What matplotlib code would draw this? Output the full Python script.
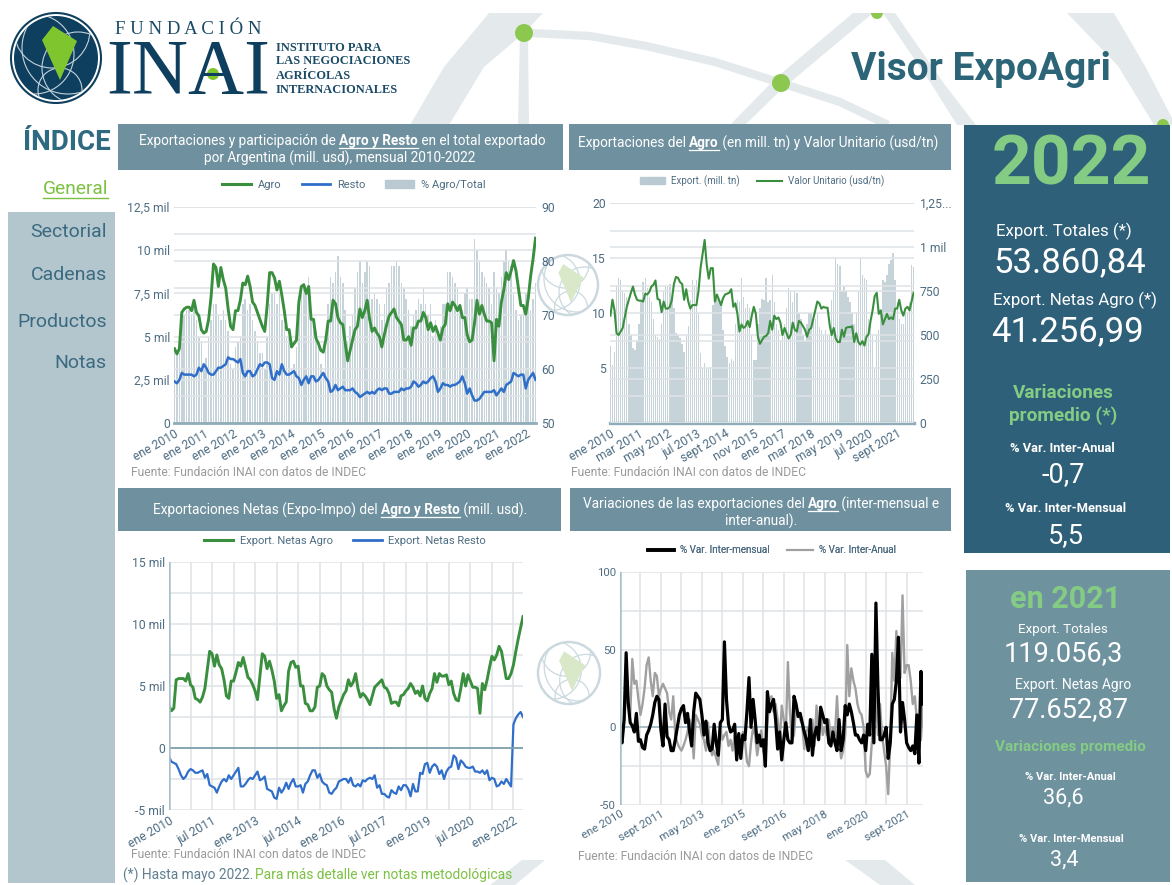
import numpy as np
import matplotlib
matplotlib.use("Agg")
import matplotlib.pyplot as plt
from matplotlib.patches import Rectangle, Circle, Polygon, Patch
from matplotlib.lines import Line2D

plt.rcParams['font.family'] = ['Roboto', 'DejaVu Sans']

# ---------- DATA ----------
MES = ['ene', 'feb', 'mar', 'abr', 'may', 'jun', 'jul', 'ago', 'sept', 'oct', 'nov', 'dic']
months = [f"{MES[i % 12]} {2010 + i // 12}" for i in range(149)]

agro = [4.3,4.0,4.3,6.4,6.6,6.7,6.7,6.5,7.1,6.4,6.2,5.4,
        5.2,5.3,6.0,7.3,9.2,9.0,7.9,9.0,8.3,7.8,6.6,5.6,
        5.4,6.5,6.5,7.1,8.1,8.0,8.5,7.9,7.0,6.8,6.4,6.0,
        5.6,5.3,6.8,8.7,8.7,8.4,7.7,8.2,7.4,6.5,5.4,5.4,
        4.4,4.6,4.8,7.0,7.9,8.0,7.5,7.9,6.0,6.0,4.9,4.6,
        4.2,4.1,4.8,5.9,5.9,7.1,6.9,6.1,5.8,5.7,4.6,3.6,
        4.2,4.8,5.4,5.6,6.6,6.1,6.5,7.1,6.0,5.3,5.5,5.2,
        5.0,4.4,5.1,5.7,6.2,6.4,6.6,6.1,5.9,5.7,4.8,4.8,
        5.0,4.5,5.5,5.5,5.9,5.9,6.4,6.1,5.4,5.8,5.3,5.6,
        5.2,4.8,5.5,5.7,6.9,6.5,7.0,6.8,6.5,6.8,6.1,6.1,
        5.1,4.7,4.8,5.8,7.1,6.3,6.8,6.3,5.9,5.9,5.8,3.6,
        6.0,5.6,7.0,7.7,8.7,8.3,8.8,9.4,8.8,7.8,6.8,6.8,
        6.3,7.2,8.5,9.5,10.7]
resto = [2.4,2.3,2.5,2.9,2.8,2.8,2.8,2.8,2.7,2.8,3.2,3.0,
         3.4,3.2,2.9,2.8,2.8,3.0,3.2,3.2,3.3,3.4,3.8,3.7,
         3.7,3.6,3.5,3.7,2.9,2.7,3.0,3.0,2.7,2.8,3.1,3.4,
         3.3,3.5,3.5,3.4,2.6,2.5,3.0,2.8,3.4,3.0,2.8,2.8,
         2.9,3.0,2.7,2.6,2.2,2.5,2.7,2.3,2.7,2.7,2.4,2.5,
         2.7,2.9,2.6,2.4,1.8,1.9,2.2,1.9,2.0,2.1,1.9,1.9,
         1.9,2.0,1.8,1.7,1.5,1.6,1.7,1.8,1.7,1.8,1.7,1.9,
         2.0,1.9,2.0,2.0,1.7,1.7,1.8,1.8,1.8,2.0,1.9,2.0,
         2.0,2.1,2.4,2.3,2.1,2.2,2.4,2.3,2.4,2.6,2.7,2.4,
         1.8,2.0,2.3,2.2,2.2,2.1,2.2,2.2,2.3,2.4,2.7,2.3,
         1.7,2.0,1.6,1.3,1.3,1.4,1.6,1.8,1.8,1.8,1.8,1.9,
         1.6,1.8,2.0,1.8,2.2,2.3,2.4,2.9,2.8,2.7,2.8,2.8,
         2.0,2.5,2.7,2.9,2.5]
pct_agro = [64,63,63,69,70,71,71,70,72,69,66,65,
            61,62,66,69,72,72,70,69,71,69,67,61,
            60,64,65,66,72,73,71,72,69,67,65,63,
            63,60,66,72,74,74,72,74,69,68,66,66,
            60,61,64,73,74,76,74,77,70,69,67,65,
            61,59,66,72,77,76,78,81,77,76,71,65,
            68,70,75,78,80,76,78,80,79,73,74,73,
            72,69,72,75,76,79,79,80,79,76,75,73,
            71,68,70,71,73,72,75,72,70,72,66,69,
            67,68,72,72,78,78,77,76,75,72,71,74,
            75,73,73,84,82,80,78,77,76,75,72,78,
            75,74,77,80,82,80,79,74,71,69,70,72,
            74,72,71,73,76]

export_tn = [7,5.3,6.5,12.5,13.2,13,12,11.8,11.5,9,8,6.8,
             6.6,7.5,9,11,12.8,13.2,12.3,11.5,11,9.5,8,7.8,
             7.6,9,12,12.5,12.5,12.6,11.5,10.5,8.2,8,7.7,7.2,
             6.5,8,8.8,11.2,13,12.5,13,10,6.4,5,5.5,5.0,
             5.0,5.1,10.7,11.0,11.3,11.2,10.8,8.5,7,6,5.5,5.8,
             5.6,9,11.2,11,13.2,11.5,10.5,10.8,10.5,8,5.7,5.7,
             9,10.5,11.3,11.2,13.2,11,11.2,13.5,11,9,8.5,7.5,
             8,9,10.5,12.3,12,11,12,11.8,10,9.5,8,7.5,
             9,10,10,10,9.5,10,8.7,8.5,8,8.5,8,8,
             11.2,12,15,14.5,14.3,12,12.5,12,11.5,11,10,9,
             10,12,15,13.5,13.2,13,9.5,9,8,5,8,8.5,
             10,13,12.8,13.5,14.5,14.8,15.5,13,11,9.5,9,9,
             10,10,11,14.4,14.2]
valor_unit = [610,700,640,510,500,520,540,600,660,700,740,775,
              730,700,695,695,690,735,730,745,775,785,810,705,
              700,630,690,650,650,660,700,790,830,825,800,790,
              700,760,690,650,670,670,670,750,880,960,1040,900,
              820,880,880,690,730,700,670,710,730,735,740,760,
              660,680,620,520,560,540,550,580,545,610,660,620,
              490,450,470,490,495,510,580,530,610,590,600,570,
              500,540,510,480,500,570,530,520,580,570,550,530,
              490,530,540,590,640,690,680,650,660,655,655,560,
              500,540,480,460,460,530,490,540,545,545,550,460,
              510,460,445,465,440,490,505,580,640,720,740,620,
              640,560,590,620,590,600,590,650,650,700,640,610,
              650,660,640,690,740]

netas_agro = [3.4,3.0,3.2,5.5,5.6,5.6,5.6,5.4,6.0,5.1,4.9,4.0,
              3.9,3.7,4.1,4.8,6.3,7.8,7.6,6.6,7.5,6.7,6.4,5.5,
              4.2,4.0,5.4,5.4,6.1,6.9,6.6,7.3,6.5,5.7,5.5,5.1,
              4.6,3.9,5.8,7.6,7.4,6.4,7.0,6.3,5.4,4.0,4.3,3.0,
              3.4,3.7,6.2,6.9,7.0,6.5,6.6,5.0,5.0,3.6,3.5,3.0,
              3.0,3.3,4.9,5.0,6.0,5.8,5.0,4.7,4.5,3.2,2.4,3.3,
              3.8,4.3,4.6,5.5,5.0,5.3,6.0,4.8,4.1,4.4,4.2,3.9,
              3.5,4.2,4.9,5.1,5.3,5.5,4.9,4.8,4.4,3.6,3.7,3.7,
              3.4,4.2,4.3,4.6,4.8,5.2,4.9,4.4,4.6,4.2,5.0,4.0,
              3.8,4.4,4.8,6.0,5.3,6.0,5.8,5.8,5.9,5.1,5.4,4.4,
              3.9,3.8,4.8,6.0,5.0,5.9,5.4,4.9,4.9,4.8,2.8,5.2,
              4.7,5.5,6.5,7.4,7.1,7.5,8.2,7.8,6.7,5.6,5.6,6.0,
              6.7,7.8,8.8,9.7,10.6]
netas_resto = [-0.7,-1.1,-1.2,-1.3,-1.7,-2.2,-2.5,-2.3,-1.9,-1.7,-1.8,-2.0,
               -2.0,-1.9,-1.8,-2.4,-2.1,-3.0,-3.1,-3.2,-3.6,-3.1,-2.7,-2.5,
               -2.7,-2.2,-2.5,-2.2,-1.9,-1.6,-3.1,-3.1,-2.9,-2.6,-2.4,-2.5,
               -2.2,-1.9,-2.6,-2.5,-2.3,-3.3,-3.4,-3.5,-4.0,-4.1,-3.2,-3.6,
               -3.3,-2.8,-3.3,-2.8,-2.5,-3.1,-3.1,-3.0,-3.6,-2.9,-2.7,-2.2,
               -1.8,-1.8,-2.4,-2.1,-2.7,-2.9,-3.0,-3.6,-3.7,-3.4,-3.2,-2.7,
               -2.6,-2.5,-2.5,-2.8,-2.4,-3.0,-3.1,-2.9,-3.1,-2.6,-2.7,-2.5,
               -2.4,-2.5,-2.2,-3.2,-3.0,-3.7,-3.7,-3.9,-4.0,-3.4,-3.6,-3.7,
               -3.1,-3.4,-3.0,-3.0,-3.3,-3.9,-2.9,-3.5,-3.5,-2.0,-2.1,-1.3,
               -1.2,-2.0,-1.5,-1.3,-1.5,-2.1,-1.8,-2.5,-1.9,-1.6,-1.5,-0.6,
               -0.8,-1.7,-1.0,-1.2,-1.5,-1.6,-1.6,-1.5,-1.9,-1.9,-2.0,-1.8,
               -2.1,-1.8,-2.6,-2.4,-2.5,-3.1,-3.0,-2.7,-2.9,-2.5,-2.8,-3.1,
               1.9,2.4,2.7,2.9,2.5]

var_mensual = [-7,-10,5,48,16,3,1,-3,9,-9,-8,-13,
               -14,-5,-2,2,8,16,20,18,-2,-12,15,-6,
               -8,-15,-15,-8,0,8,12,14,3,9,-3,-12,
               10,22,20,18,8,-5,4,-10,-15,-14,2,-10,
               -18,3,5,55,18,2,-3,-2,2,-21,-4,-20,
               -5,-8,10,32,0,18,5,-10,-5,-12,-8,-25,
               23,10,15,18,5,-14,-3,-21,-8,3,-8,-10,
               -10,20,15,7,9,3,-3,-8,-15,5,-18,-5,
               0,-8,13,8,3,5,-10,-12,-3,-10,-15,5,
               -15,-8,14,8,15,10,3,-5,-5,-8,-10,-5,
               -15,2,-5,47,-10,80,25,-8,-8,-5,0,-20,
               -10,15,18,30,58,-3,16,5,-10,-13,-15,-12,
               -17,8,-23,36,15]
var_anual = [-8,-8,3,20,15,8,44,28,30,18,8,15,
             25,40,45,30,20,35,33,20,25,28,25,22,
             10,5,20,-5,-10,-13,-15,-12,-8,-3,5,0,
             -20,8,5,2,-5,-8,-15,3,-12,-18,-15,-20,
             -24,-2,-8,-5,-3,-12,-8,-15,-5,-12,-8,-18,
             -3,-8,-22,-25,-10,0,-5,-18,-10,-2,-15,-22,
             2,18,20,10,15,5,-10,14,5,-5,42,10,
             -8,-5,14,10,5,2,-14,-3,0,-8,5,-12,
             14,-5,10,-5,0,-5,5,-7,0,-5,20,-8,
             -20,-15,-5,53,20,38,30,25,15,10,8,0,
             -28,-32,-30,-10,10,22,-5,15,-5,-15,-25,-43,
             -10,48,30,62,30,32,85,35,40,40,30,15,
             20,5,-10,-8,15]

y1_left = [0, 2.5, 5, 7.5, 10, 12.5]
y1_left_lab = ['0', '2,5 mil', '5 mil', '7,5 mil', '10 mil', '12,5 mil']
y1_right = [50, 60, 70, 80, 90]
y2_left = [5, 10, 15, 20]
y2_right = [0, 250, 500, 750, 1000, 1250]
y2_right_lab = ['0', '250', '500', '750', '1 mil', '1,25...']
y3_ticks = [-5, 0, 5, 10, 15]
y3_lab = ['-5 mil', '0', '5 mil', '10 mil', '15 mil']
y4_ticks = [-50, 0, 50, 100]

# ---------- COLOURS ----------
C_HEAD = '#6f919f'
C_DARK = '#2f6079'
C_MID = '#6f929f'
C_SIDE = '#b3c6cd'
C_TXT = '#4d6c82'
C_GRID = '#dfe3e5'
C_GREEN = '#3a8f3f'
C_BLUE = '#2f6fc9'
C_BAR = '#c6d4da'
C_LGREEN = '#84cc84'
C_LIME = '#7cc142'
C_SRC = '#9a9a9a'
W, H = 1172, 885

fig = plt.figure(figsize=(W / 100, H / 100), dpi=100, facecolor='white')
bg = fig.add_axes([0, 0, 1, 1], zorder=0)
bg.set_xlim(0, W); bg.set_ylim(H, 0); bg.axis('off')
ov = fig.add_axes([0, 0, 1, 1], zorder=10)
ov.set_xlim(0, W); ov.set_ylim(H, 0); ov.axis('off'); ov.patch.set_alpha(0)


def px_axes(x0, y0, x1, y1):
    ax = fig.add_axes([x0 / W, 1 - y1 / H, (x1 - x0) / W, (y1 - y0) / H], zorder=3)
    ax.patch.set_alpha(0)
    return ax


# ---------- BACKGROUND DECOR ----------
PALE = '#e4eaec'
for pts in (((410, 125), (444, 67), (489, 13), (543, 13), (524, 33), (484, 67), (449, 125)),
            ((520, 33), (528, 33), (529, 125), (518, 125)),
            ((1067, 13), (1114, 13), (1145, 66), (1172, 118), (1172, 125), (1154, 125), (1118, 66)),
            ((883, 13), (895, 13), (945, 85), (976, 125), (957, 125), (932, 85)),
            ((853, 13), (873, 13), (781, 90), (745, 125), (730, 125), (776, 78)),
            ((490, 885), (522, 860), (545, 860), (515, 885)),
            ((845, 860), (885, 860), (915, 885), (880, 885))):
    bg.add_patch(Polygon(pts, closed=True, fc=PALE, ec='none'))
bg.plot([530, 590, 646, 715, 781, 840, 888], [33, 36, 46, 62, 83, 102, 125], color=PALE, lw=6,
        solid_capstyle='butt')
bg.add_patch(Rectangle((0, 0), W, 13, fc='white', ec='none', zorder=3))
for cx, cy, r in ((524, 33, 9), (781, 83, 9), (877, 13, 6), (1163, 125, 6)):
    bg.add_patch(Circle((cx, cy), r, fc='#8cc850', ec='none', zorder=4 if cy > 13 else 2))


def radar(cx, cy, r):
    col = '#cbd9df'
    bg.add_patch(Circle((cx, cy), r, fc='white', ec=col, lw=1.8))
    for dx, dy, rr in ((-0.55, -0.1, 0.95), (0.55, 0.25, 0.85), (0.1, 0.75, 0.55), (-0.1, -0.7, 0.8), (0.3, -0.2, 1.1)):
        p = Circle((cx + dx * r, cy + dy * r), rr * r, fc='none', ec=col, lw=0.9)
        bg.add_patch(p)
        p.set_clip_path(Circle((cx, cy), r, transform=bg.transData))
    bg.add_patch(Polygon([(cx - 0.16 * r, cy - 0.7 * r), (cx + 0.52 * r, cy - 0.25 * r),
                          (cx + 0.1 * r, cy + 0.58 * r), (cx - 0.32 * r, cy - 0.4 * r)],
                         closed=True, fc='#d8e8c8', ec='none'))


radar(568, 285, 30)
radar(569, 673, 31)

# ---------- LOGO ----------
NAVY = '#0f3f5f'
ov.add_patch(Circle((56, 58), 45, fc='white', ec=NAVY, lw=1.5))
ov.add_patch(Circle((56, 58), 42, fc=NAVY, ec='none'))
for dx, dy, rr in ((-22, -4, 40), (22, 10, 36), (4, 32, 22), (-4, -28, 38), (12, -10, 46)):
    p = Circle((56 + dx, 58 + dy), rr, fc='none', ec='#c3d2db', lw=0.8)
    ov.add_patch(p)
    p.set_clip_path(Circle((56, 58), 42, transform=ov.transData))
ov.add_patch(Polygon([(53, 26), (77, 41), (60, 80), (42, 40)], closed=True, fc='#7ec52e', ec='none'))
SERIF = ['Liberation Serif', 'DejaVu Serif']
ov.text(188, 29, 'F U N D A C I Ó N', family=SERIF, fontsize=13.5, color='#1a4a66', ha='center', va='center')
ov.text(188, 93, 'INAI', family=SERIF, fontsize=56, color=NAVY, ha='center', va='baseline')
ov.add_patch(Circle((213, 74), 6, fc='#7ec52e', ec='none'))
for y, t in ((48, 'INSTITUTO PARA'), (61, 'LAS NEGOCIACIONES'), (76, 'AGRÍCOLAS'), (90, 'INTERNACIONALES')):
    ov.text(276, y, t, family=SERIF, fontsize=8.9, fontweight='bold', color='#1a4a66', ha='left', va='center')
ov.text(981, 70, 'Visor ExpoAgri', fontsize=28, fontweight='bold', color='#2c6478', ha='center', va='center')

# ---------- SIDEBAR ----------
ov.text(67, 142, 'ÍNDICE', fontsize=20, fontweight='bold', color='#2e6a80', ha='center', va='center')
ov.text(108, 189, 'General', fontsize=13.8, color=C_LIME, ha='right', va='center')
ov.plot([43, 108], [198, 198], color=C_LIME, lw=1)
bg.add_patch(Rectangle((8, 212), 107, 671, fc=C_SIDE, ec='none'))
for y, t in ((232, 'Sectorial'), (275, 'Cadenas'), (322, 'Productos'), (363, 'Notas')):
    ov.text(107, y, t, fontsize=14, color='#3b6a80', ha='right', va='center')


# ---------- PANEL HEADERS ----------
def mixed_line(cx, y, parts, size=9.8):
    r = fig.canvas.get_renderer()
    arts = []
    for s, b in parts:
        arts.append((ov.text(0, y, s, fontsize=size, color='white', va='center', ha='left',
                             fontweight='bold' if b else 'normal'), b))
    widths = [a.get_window_extent(r).width for a, _ in arts]
    x = cx - sum(widths) / 2
    for (a, b), w in zip(arts, widths):
        a.set_x(x)
        if b:
            ov.plot([x, x + w], [y + 7, y + 7], color='white', lw=0.9)
        x += w


for x0, y0, x1, y1 in ((118, 124, 563, 170), (569, 124, 951, 170), (118, 488, 561, 531), (570, 488, 951, 531)):
    bg.add_patch(Rectangle((x0, y0), x1 - x0, y1 - y0, fc=C_HEAD, ec='none', zorder=5))
mixed_line(342, 141, [('Exportaciones y participación de ', 0), ('Agro y Resto', 1), (' en el total exportado', 0)])
mixed_line(340, 158, [('por Argentina (mill. usd), mensual 2010-2022', 0)])
mixed_line(758, 143, [('Exportaciones del ', 0), ('Agro', 1), (' (en mill. tn) y Valor Unitario (usd/tn)', 0)])
mixed_line(340, 510, [('Exportaciones Netas (Expo-Impo) del ', 0), ('Agro y Resto', 1), (' (mill. usd).', 0)])
mixed_line(761, 504, [('Variaciones de las exportaciones del ', 0), ('Agro', 1), (' (inter-mensual e', 0)])
mixed_line(761, 521, [('inter-anual).', 0)])

x = np.arange(len(months))


def style(ax, step, rot=30, size=8.7):
    ax.set_xticks(x[::step])
    ax.set_xticklabels(months[::step], rotation=rot, ha='right', rotation_mode='anchor', fontsize=size, color=C_TXT)
    ax.tick_params(axis='both', length=0, pad=3, labelsize=size, labelcolor=C_TXT)
    for s in ax.spines.values():
        s.set_visible(False)
    ax.set_axisbelow(True)


def legend(handles, cx, cy, size=8, gap=1.8):
    leg = ov.legend(handles=handles, loc='center', bbox_to_anchor=(cx, cy), bbox_transform=ov.transData,
                    ncol=len(handles), frameon=False, fontsize=size, labelcolor=C_TXT, columnspacing=gap,
                    handlelength=2.6, handletextpad=0.6, borderpad=0)
    ov.add_artist(leg)


# ---------- CHART 1 ----------
a1 = px_axes(174, 207, 536, 423)
a1r = a1.twinx()
a1r.patch.set_alpha(0)
a1.set_zorder(4); a1r.set_zorder(3)
a1r.bar(x, pct_agro, width=0.62, color=C_BAR, zorder=2)
a1r.set_ylim(50, 90); a1r.set_yticks(y1_right)
a1r.set_yticks(np.arange(50, 91, 5), minor=True)
a1r.set_axisbelow(False)
a1r.grid(True, which='both', axis='y', color=C_GRID, lw=1.1)
a1r.tick_params(axis='y', which='both', length=0)
a1r.tick_params(axis='y', labelsize=8.7, labelcolor=C_TXT, pad=4)
a1.plot(x, agro, color=C_GREEN, lw=2.1)
a1.plot(x, resto, color=C_BLUE, lw=1.8)
a1.set_ylim(0, 12.5); a1.set_yticks(y1_left); a1.set_yticklabels(y1_left_lab)
a1.set_xlim(-0.2, 148.2); a1r.set_xlim(-0.2, 148.2)
style(a1, 12)
a1.grid(True, axis='y', color=C_GRID, lw=1.1)
for s in a1r.spines.values():
    s.set_visible(False)
a1.axhline(0, color='#8fadb9', lw=2, clip_on=False)
legend([Line2D([], [], color=C_GREEN, lw=2.2, label='Agro'),
        Line2D([], [], color=C_BLUE, lw=2, label='Resto'),
        Patch(color='#b9cad2', label='% Agro/Total')], 354, 185)
ov.text(131, 473, 'Fuente: Fundación INAI con datos de INDEC', fontsize=8.7, color=C_SRC, va='center')

# ---------- CHART 2 ----------
a2 = px_axes(610, 203, 914, 423)
a2r = a2.twinx()
a2r.patch.set_alpha(0)
a2.bar(x, export_tn, width=0.68, color=C_BAR, zorder=2)
a2.set_ylim(0, 20); a2.set_yticks(y2_left); a2.set_yticklabels([str(v) for v in y2_left])
a2.set_yticks(np.arange(0, 20.1, 2.5), minor=True)
a2.set_xlim(-0.2, 148.2); a2r.set_xlim(-0.2, 148.2)
style(a2, 14)
a2.set_axisbelow(False)
a2.grid(True, which='both', axis='y', color=C_GRID, lw=1.1)
a2.tick_params(axis='y', which='minor', length=0)
a2r.plot(x, valor_unit, color=C_GREEN, lw=1.5)
a2r.set_ylim(0, 1250); a2r.set_yticks(y2_right); a2r.set_yticklabels(y2_right_lab)
a2r.grid(True, axis='y', color=C_GRID, lw=1.1)
a2r.set_axisbelow(True)
a2r.tick_params(axis='y', length=0, labelsize=8.7, labelcolor=C_TXT, pad=4)
for s in a2r.spines.values():
    s.set_visible(False)
a2.axhline(0, color='#8fadb9', lw=2.4, clip_on=False)
legend([Patch(color='#b9cad2', label='Export. (mill. tn)'),
        Line2D([], [], color=C_GREEN, lw=1.5, label='Valor Unitario (usd/tn)')], 762, 181, size=7)
ov.text(571, 473, 'Fuente: Fundación INAI con datos de INDEC', fontsize=8.7, color=C_SRC, va='center')

# ---------- CHART 3 ----------
a3 = px_axes(169, 562, 523, 810)
a3.plot(x, netas_agro, color=C_GREEN, lw=2.1)
a3.plot(x, netas_resto, color=C_BLUE, lw=1.6)
a3.set_ylim(-5, 15); a3.set_yticks(y3_ticks); a3.set_yticklabels(y3_lab)
a3.set_yticks(np.arange(-5, 15.1, 2.5), minor=True)
a3.set_xlim(0, 148)
style(a3, 18)
a3.set_xticks(x[::9], minor=True)
a3.tick_params(axis='both', which='minor', length=0)
a3.grid(True, which='both', color=C_GRID, lw=1.1)
a3.axhline(0, color='#7f9fae', lw=1.3)
a3.axvline(0, color='#a9c0ca', lw=1.8)
legend([Line2D([], [], color=C_GREEN, lw=2.2, label='Export. Netas Agro'),
        Line2D([], [], color=C_BLUE, lw=2, label='Export. Netas Resto')], 345, 541, size=8)
ov.text(131, 855, 'Fuente: Fundación INAI con datos de INDEC', fontsize=8.7, color=C_SRC, va='center')

# ---------- CHART 4 ----------
a4 = px_axes(620, 572, 923, 805)
a4.plot(x, var_anual, color='#a0a0a0', lw=1.7)
a4.plot(x, var_mensual, color='black', lw=2.3)
a4.set_ylim(-50, 100); a4.set_yticks(y4_ticks); a4.set_yticklabels([str(v) for v in y4_ticks])
a4.set_yticks(np.arange(-50, 100.1, 25), minor=True)
a4.set_xlim(0, 148)
style(a4, 20, size=8.2)
a4.set_xticks(x[::10], minor=True)
a4.tick_params(axis='both', which='minor', length=0)
a4.grid(True, which='both', color=C_GRID, lw=1.1)
a4.axhline(0, color='#9db6c1', lw=1.2, zorder=1)
a4.axvline(0, color='#a9c0ca', lw=1.8)
legend([Line2D([], [], color='black', lw=2.6, label='% Var. Inter-mensual'),
        Line2D([], [], color='#a0a0a0', lw=1.5, label='% Var. Inter-Anual')], 772, 550, size=7.1)
ov.text(578, 856, 'Fuente: Fundación INAI con datos de INDEC', fontsize=8.7, color=C_SRC, va='center')

# ---------- FOOTNOTE ----------
ov.text(123, 875, '(*) Hasta mayo 2022.', fontsize=9.9, color='#5f7f90', va='center')
ov.text(255, 875, 'Para más detalle ver notas metodológicas', fontsize=9.9, color=C_LIME, va='center')

# ---------- KPI PANELS ----------
bg.add_patch(Rectangle((964, 125), 206, 428, fc=C_DARK, ec='none', zorder=5))
bg.add_patch(Rectangle((966, 570), 204, 312, fc=C_MID, ec='none', zorder=5))


def kpi(x_, y_, t, size, bold=False, color='white'):
    ov.text(x_, y_ + 2, t, fontsize=size, fontweight='bold' if bold else 'normal', color=color, ha='center', va='center')


kpi(1071, 164, '2022', 50, True, C_LGREEN)
kpi(1064, 229, 'Export. Totales (*)', 12.2)
kpi(1070, 261, '53.860,84', 25)
kpi(1075, 298, 'Export. Netas Agro (*)', 12.2)
kpi(1067, 330, '41.256,99', 25)
kpi(1063, 391, 'Variaciones', 13.7, True, C_LGREEN)
kpi(1063, 414, 'promedio (*)', 13.7, True, C_LGREEN)
kpi(1062, 447, '% Var. Inter-Anual', 9.3, True)
kpi(1063, 473, '-0,7', 19.5)
kpi(1066, 507, '% Var. Inter-Mensual', 9.3, True)
kpi(1066, 534, '5,5', 19.5)

kpi(1066, 597, 'en 2021', 22, True, C_LGREEN)
kpi(1063, 627, 'Export. Totales', 9.6)
kpi(1063, 652, '119.056,3', 19.5)
kpi(1073, 683, 'Export. Netas Agro', 10)
kpi(1068, 708, '77.652,87', 19.5)
kpi(1070, 745, 'Variaciones promedio', 11, True, C_LGREEN)
kpi(1070, 775, '% Var. Inter-Anual', 8, True)
kpi(1063, 796, '36,6', 15.5)
kpi(1071, 837, '% Var. Inter-Mensual', 8, True)
kpi(1064, 858, '3,4', 15.5)

fig.savefig('out.png', dpi=100, facecolor='white')
